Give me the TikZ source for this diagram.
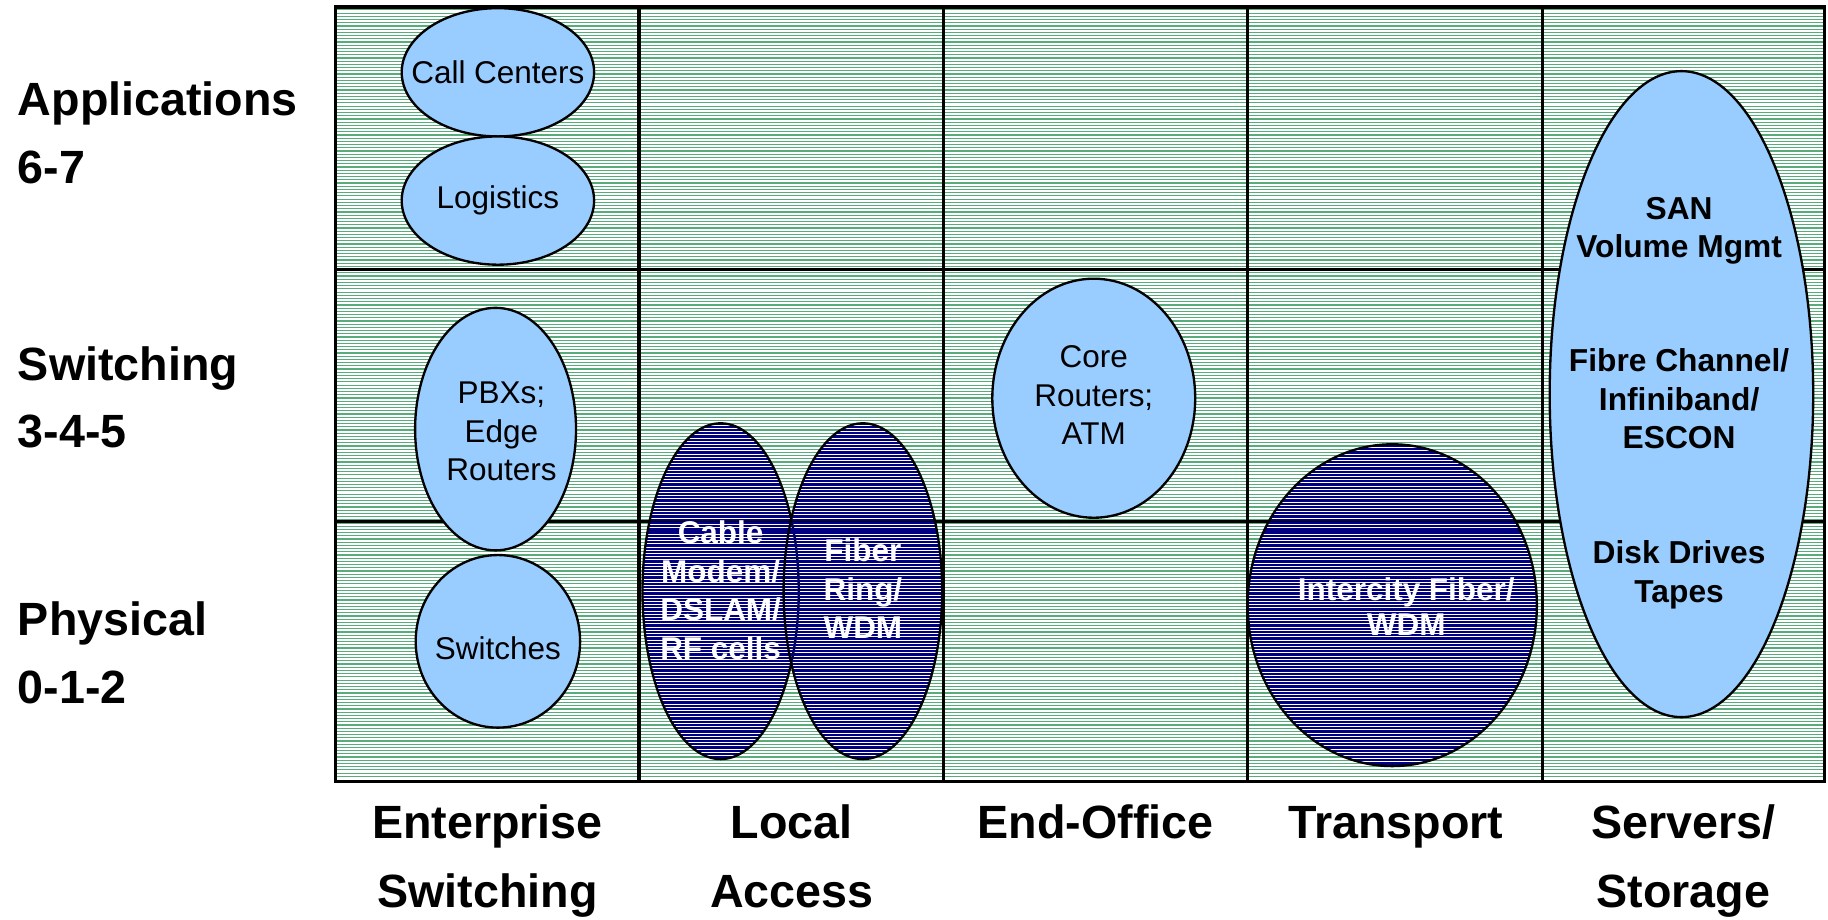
\documentclass[tikz,border=0pt]{standalone}
\usepackage{fontspec}
\setmainfont{Liberation Sans}
\usetikzlibrary{shapes.geometric}

\definecolor{gridgreen}{RGB}{88,172,124}
\definecolor{blobblue}{RGB}{153,204,255}
\definecolor{hatchnavy}{RGB}{0,0,128}

\tikzset{
  bgline/.style={gridgreen, line width=0.5pt},
  hatchline/.style={hatchnavy, line width=0.95pt},
  cellline/.style={black, line width=1.3pt},
  blob/.style={ellipse, draw=black, line width=1pt, fill=blobblue, inner sep=0pt},
  hatchblob/.style={ellipse, draw=black, line width=1pt, inner sep=0pt},
  blobtext/.style={align=center, inner sep=0pt, font=\fontsize{13.5}{16.5}\selectfont},
  hatchtext/.style={blobtext, text=white, font=\fontsize{13.5}{16.5}\selectfont\bfseries},
  santext/.style={blobtext, font=\fontsize{13.6}{16.5}\selectfont\bfseries},
  layertext/.style={align=left, inner sep=0pt, anchor=base west, font=\fontsize{20}{29}\selectfont\bfseries},
  coltext/.style={align=center, inner sep=0pt, anchor=base, font=\fontsize{20}{29.5}\selectfont\bfseries}
}

% navy lines inside an ellipse: centre x, centre y, x radius, y radius
\newcommand{\hatchfill}[4]{%
  \begin{scope}
    \clip (#1,#2) ellipse [x radius=#3, y radius=#4];
    \foreach \yy in {8.5,11.25,...,668} \draw[hatchline] (#1-#3,\yy) -- (#1+#3,\yy);
  \end{scope}}

\begin{document}
\begin{tikzpicture}[x=0.5pt,y=-0.5pt]
	\useasboundingbox (0,0) rectangle (1567.7,788.2);
	
	% background
	\foreach \yy in {8.5,11.25,...,668} \draw[bgline] (288,\yy) -- (1565,\yy);
	
	% cells
	\draw[cellline] (288,6) rectangle (1565,670.5);
	\foreach \xx in {548,809,1070,1323} \draw[cellline] (\xx,6) -- (\xx,670.5);
	\foreach \yy in {231,447} \draw[cellline] (288,\yy) -- (1565,\yy);
	
	% hatched ellipses
	\hatchfill{618}{507}{67}{144}
	\node[hatchblob, minimum width=67pt, minimum height=144pt] (cable) at (618,507) {};
	\hatchfill{740}{507}{68}{144}
	\node[hatchblob, minimum width=68pt, minimum height=144pt] (fiber) at (740,507) {};
	\hatchfill{1194}{519}{124}{138}
	\node[hatchblob, minimum width=124pt, minimum height=138pt] (inter) at (1194,519) {};
	
	% filled ellipses
	\node[blob, minimum width=82.5pt, minimum height=55pt] (callc) at (427,62) {};
	\node[blob, minimum width=82.5pt, minimum height=55pt] (logis) at (427,172) {};
	\node[blob, minimum width=69pt, minimum height=104pt] (pbx) at (425,368) {};
	\node[blob, minimum width=70.5pt, minimum height=74pt] (switches) at (427,550) {};
	\node[blob, minimum width=87pt, minimum height=102.5pt] (core) at (938,341.5) {};
	\node[blob, minimum width=113pt, minimum height=277pt] (san) at (1442,338) {};
	
	% ellipse texts
	\node[blobtext] (callctext) at (callc) {Call Centers};
	\node[blobtext] (logistext) at (logis) {Logistics};
	\node[blobtext] (pbxtext) at (430,370) {PBXs;\\Edge\\Routers};
	\node[blobtext] (switchtext) at (427,556) {Switches};
	\node[blobtext] (coretext) at (938,339) {Core\\Routers;\\ATM};
	\node[hatchtext] (cabletext) at (618,506) {Cable\\Modem/\\DSLAM/\\RF cells};
	\node[hatchtext] (fibertext) at (740,505) {Fiber\\Ring/\\WDM};
	\node[hatchtext, font=\fontsize{13.5}{15}\selectfont\bfseries] (intertext) at (1206,520) {Intercity Fiber/\\WDM};
	\node[santext] (santop) at (1440,198) {SAN\\Volume Mgmt};
	\node[santext] (sanmid) at (1440,342) {Fibre Channel/\\Infiniband/\\ESCON};
	\node[santext] (sanlow) at (1440,493) {Disk Drives\\Tapes};
	
	% layers
	\node[layertext] (appl) at (15,157) {Applications\\6-7};
	\node[layertext] (swit) at (15,384) {Switching\\3-4-5};
	\node[layertext] (phys) at (15,603) {Physical\\0-1-2};
	
	% columns
	\node[coltext] (enterp) at (418,778) {Enterprise\\Switching};
	\node[coltext] (local) at (679,778) {Local\\Access};
	\node[coltext] (endoff) at (939.5,719) {End-Office};
	\node[coltext] (transp) at (1197,719) {Transport};
	\node[coltext] (server) at (1443.5,778) {Servers/\\Storage};
\end{tikzpicture}
\end{document}
